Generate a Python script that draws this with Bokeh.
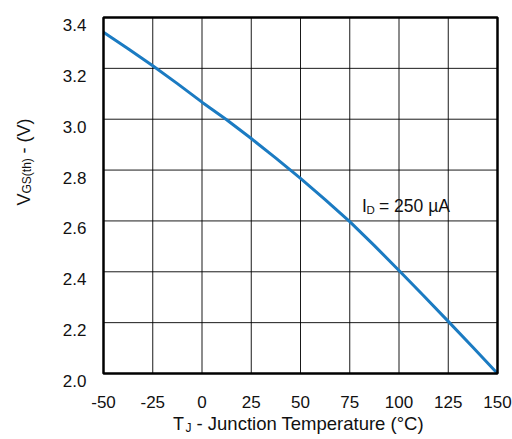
import math
from bokeh.plotting import figure
from bokeh.models import Range1d
from bokeh.core.properties import value
from bokeh.embed import file_html
from bokeh.resources import INLINE

# ---- Data ----
temp_c = [-50, -37.5, -25, -12.5, 0, 12.5, 25, 37.5, 50, 62.5, 75, 87.5, 100, 112.5, 125, 137.5, 150]
vgs_th = [3.342, 3.277, 3.210, 3.140, 3.067, 2.998, 2.924, 2.847, 2.767, 2.684, 2.597, 2.503, 2.405, 2.306, 2.205, 2.103, 2.000]
x_ticks = [-50, -25, 0, 25, 50, 75, 100, 125, 150]
y_ticks = [2.0, 2.2, 2.4, 2.6, 2.8, 3.0, 3.2, 3.4]
x_tick_labels = ["-50", "-25", "0", "25", "50", "75", "100", "125", "150"]
y_tick_labels = ["2.0", "2.2", "2.4", "2.6", "2.8", "3.0", "3.2", "3.4"]

# ---- Layout (pixels on the canvas) ----
W, H = 512, 439
FL, FR, FT, FB = 103, 497, 17, 373          # chart box edges
XMIN, XMAX = x_ticks[0], x_ticks[-1]
YMIN, YMAX = y_ticks[0], y_ticks[-1]
PXX = (FR - FL) / (XMAX - XMIN)             # px per unit x
PXY = (FB - FT) / (YMAX - YMIN)             # px per unit y

x_range = Range1d(XMIN - FL / PXX, XMAX + (W - FR) / PXX)
y_range = Range1d(YMIN - (H - FB) / PXY, YMAX + FT / PXY)

def dx(px):   # canvas px -> data x
    return XMIN + (px - FL) / PXX

def dy(py):   # canvas py (from top) -> data y
    return YMAX - (py - FT) / PXY

FONT = value("Liberation Sans")
INK = "#111111"

p = figure(width=W, height=H, output_backend="svg", toolbar_location=None,
           x_range=x_range, y_range=y_range, x_axis_type=None, y_axis_type=None)
p.min_border = 0
p.outline_line_color = None
p.background_fill_color = "white"
p.border_fill_color = "white"

# grid
p.segment(x0=x_ticks, y0=[YMIN] * len(x_ticks), x1=x_ticks, y1=[YMAX] * len(x_ticks),
          line_color="black", line_width=1, line_alpha=0.9)
p.segment(x0=[XMIN] * len(y_ticks), y0=y_ticks, x1=[XMAX] * len(y_ticks), y1=y_ticks,
          line_color="black", line_width=1, line_alpha=0.9)

# curve
p.line(temp_c, vgs_th, line_color="#1b7bc2", line_width=3)

# chart box
p.quad(left=[XMIN], right=[XMAX], bottom=[YMIN], top=[YMAX],
       fill_color=None, line_color="black", line_width=2.5)

# tick labels
p.text(x=x_ticks, y=[dy(FB + 28)] * len(x_ticks), text=x_tick_labels,
       text_font=FONT, text_font_size="17px", text_color=INK,
       text_align="center", text_baseline="alphabetic")
p.text(x=[dx(FL - 17)] * len(y_ticks), y=[t - 7.5 / PXY for t in y_ticks], text=y_tick_labels,
       text_font=FONT, text_font_size="17px", text_color=INK,
       text_align="right", text_baseline="alphabetic")

def txt(px, py, s, size, angle=0.0):
    p.text(x=[dx(px)], y=[dy(py)], text=[s], text_font=FONT, text_font_size=size,
           text_color=INK, text_align="left", text_baseline="alphabetic", angle=angle)

# I_D = 250 µA
txt(361.5, 205, "I", "17.5px")
txt(366.0, 209, "D", "11.5px")
txt(378.5, 205, "= 250 µA", "17.5px")

# x title: T_J - Junction Temperature (°C)
txt(172.5, 423, "T", "18px")
txt(185.0, 427, "J", "12px")
txt(196.0, 423, "- Junction Temperature (°C)", "18.5px")

# y title: V_GS(th) - (V), rotated
a = math.pi / 2
txt(23, 205, "V", "18px", a)
txt(26, 193, "GS(th)", "12px", a)
txt(23, 153, "- (V)", "18px", a)

open("out.html", "w").write(file_html(p, INLINE))
